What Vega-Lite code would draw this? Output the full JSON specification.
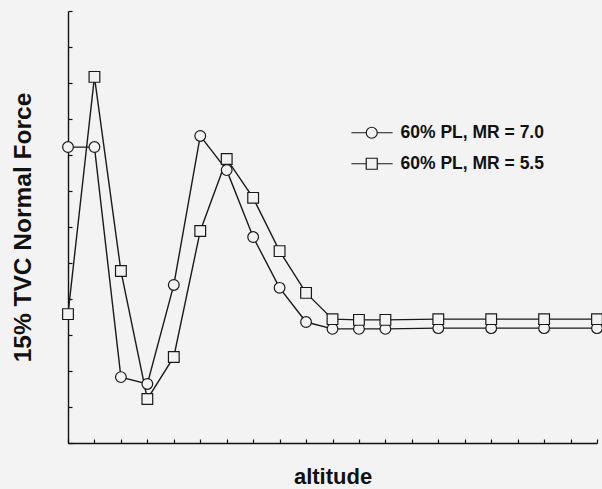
{
  "$schema": "https://vega.github.io/schema/vega-lite/v6.json",
  "width": 529,
  "height": 432,
  "autosize": {"type": "none"},
  "padding": {"left": 68, "top": 11, "right": 5, "bottom": 46},
  "background": "#f3f3f3",
  "config": {
    "view": {"stroke": null},
    "font": "Liberation Sans",
    "axis": {"grid": false, "labels": false, "domainColor": "#111", "domainWidth": 1.4, "tickColor": "#111", "tickWidth": 1.2, "tickSize": -4, "titleFont": "Liberation Sans", "titleFontWeight": "bold", "titleColor": "#111"}
  },
  "data": {"values": [
    {"alt": 0, "y": 8.22, "series": "60% PL, MR = 7.0"},
    {"alt": 1, "y": 8.22, "series": "60% PL, MR = 7.0"},
    {"alt": 2, "y": 1.83, "series": "60% PL, MR = 7.0"},
    {"alt": 3, "y": 1.64, "series": "60% PL, MR = 7.0"},
    {"alt": 4, "y": 4.39, "series": "60% PL, MR = 7.0"},
    {"alt": 5, "y": 8.53, "series": "60% PL, MR = 7.0"},
    {"alt": 6, "y": 7.58, "series": "60% PL, MR = 7.0"},
    {"alt": 7, "y": 5.72, "series": "60% PL, MR = 7.0"},
    {"alt": 8, "y": 4.31, "series": "60% PL, MR = 7.0"},
    {"alt": 9, "y": 3.36, "series": "60% PL, MR = 7.0"},
    {"alt": 10, "y": 3.17, "series": "60% PL, MR = 7.0"},
    {"alt": 11, "y": 3.17, "series": "60% PL, MR = 7.0"},
    {"alt": 12, "y": 3.17, "series": "60% PL, MR = 7.0"},
    {"alt": 14, "y": 3.19, "series": "60% PL, MR = 7.0"},
    {"alt": 16, "y": 3.19, "series": "60% PL, MR = 7.0"},
    {"alt": 18, "y": 3.19, "series": "60% PL, MR = 7.0"},
    {"alt": 20, "y": 3.19, "series": "60% PL, MR = 7.0"},
    {"alt": 0, "y": 3.58, "series": "60% PL, MR = 5.5"},
    {"alt": 1, "y": 10.17, "series": "60% PL, MR = 5.5"},
    {"alt": 2, "y": 4.78, "series": "60% PL, MR = 5.5"},
    {"alt": 3, "y": 1.22, "series": "60% PL, MR = 5.5"},
    {"alt": 4, "y": 2.39, "series": "60% PL, MR = 5.5"},
    {"alt": 5, "y": 5.89, "series": "60% PL, MR = 5.5"},
    {"alt": 6, "y": 7.89, "series": "60% PL, MR = 5.5"},
    {"alt": 7, "y": 6.81, "series": "60% PL, MR = 5.5"},
    {"alt": 8, "y": 5.33, "series": "60% PL, MR = 5.5"},
    {"alt": 9, "y": 4.17, "series": "60% PL, MR = 5.5"},
    {"alt": 10, "y": 3.44, "series": "60% PL, MR = 5.5"},
    {"alt": 11, "y": 3.42, "series": "60% PL, MR = 5.5"},
    {"alt": 12, "y": 3.42, "series": "60% PL, MR = 5.5"},
    {"alt": 14, "y": 3.44, "series": "60% PL, MR = 5.5"},
    {"alt": 16, "y": 3.44, "series": "60% PL, MR = 5.5"},
    {"alt": 18, "y": 3.44, "series": "60% PL, MR = 5.5"},
    {"alt": 20, "y": 3.44, "series": "60% PL, MR = 5.5"}
  ]},
  "encoding": {
    "x": {"field": "alt", "type": "quantitative", "scale": {"domain": [0, 20], "nice": false},
      "axis": {"title": "altitude", "titleFontSize": 22, "titlePadding": 23, "values": [0,1,2,3,4,5,6,7,8,9,10,11,12,13,14,15,16,17,18,19,20]}},
    "y": {"field": "y", "type": "quantitative", "scale": {"domain": [0, 12], "nice": false},
      "axis": {"title": "15% TVC Normal Force", "titleFontSize": 24.5, "titlePadding": 32, "values": [0,1,2,3,4,5,6,7,8,9,10,11,12]}}
  },
  "resolve": {"scale": {"shape": "independent"}},
  "layer": [
    {
      "mark": {"type": "line", "color": "#1a1a1a", "strokeWidth": 1.4},
      "encoding": {"detail": {"field": "series"}}
    },
    {
      "mark": {"type": "point", "filled": false, "fill": "#f3f3f3", "fillOpacity": 1, "stroke": "#1a1a1a", "strokeWidth": 1.2, "size": 115, "opacity": 1},
      "encoding": {
        "shape": {"field": "series", "type": "nominal",
          "scale": {"domain": ["60% PL, MR = 7.0", "60% PL, MR = 5.5"], "range": ["circle", "square"]},
          "legend": null
        }
      }
    },
    {
      "transform": [{"filter": "datum.alt < 0"}],
      "mark": {"type": "point", "filled": false, "fill": "transparent", "stroke": "#1a1a1a", "strokeWidth": 1.2, "size": 121, "opacity": 1},
      "encoding": {
        "shape": {"field": "series", "type": "nominal",
          "scale": {"domain": ["60% PL, MR = 7.0", "60% PL, MR = 5.5"],
            "range": ["M-3.7,0H-1M1,0H3.8M1,0A1,1 0 1,1 -1,0A1,1 0 1,1 1,0", "M-3.7,0H-1M1,0H3.8M-1,-1H1V1H-1Z"]},
          "legend": {
            "title": null, "orient": "none", "legendX": 295, "legendY": 113, "padding": 0,
            "labelFont": "Liberation Sans", "labelFontWeight": "bold", "labelFontSize": 17.5, "labelColor": "#111",
            "labelOffset": 20, "rowPadding": 12, "symbolSize": 121, "symbolStrokeColor": "#1a1a1a", "symbolStrokeWidth": 1.2, "symbolFillColor": "transparent", "symbolOpacity": 1
          }
        }
      }
    }
  ]
}
